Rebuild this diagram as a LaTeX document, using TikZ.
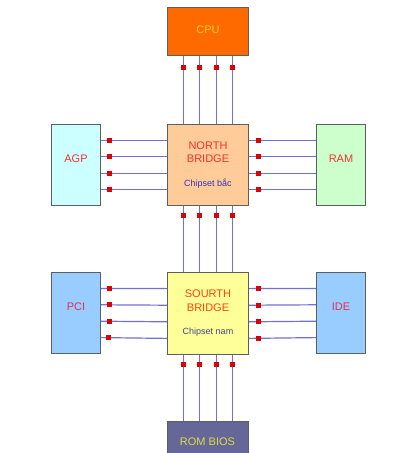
\documentclass[tikz,border=0pt]{standalone}
\usepackage{fontspec}
\setmainfont{Liberation Sans}
\usetikzlibrary{calc}
\definecolor{bordergray}{HTML}{5A6060}
\definecolor{buscol}{HTML}{7070D8}
\definecolor{sqred}{HTML}{DD0000}
\definecolor{cpufill}{HTML}{FF6A00}
\definecolor{cputext}{HTML}{FFCC22}
\definecolor{agpfill}{HTML}{CCFFFF}
\definecolor{nbfill}{HTML}{FFCC99}
\definecolor{ramfill}{HTML}{CCFFCC}
\definecolor{sbfill}{HTML}{FFFF99}
\definecolor{pcifill}{HTML}{99CCFF}
\definecolor{romfill}{HTML}{666699}
\definecolor{romtext}{HTML}{DDDD44}
\definecolor{redtext}{HTML}{EE3333}
\definecolor{sbtext}{HTML}{FF4411}
\definecolor{pcitext}{HTML}{DD3355}
\definecolor{chiptext}{HTML}{3333BB}
\definecolor{chiptextb}{HTML}{444488}
\tikzset{
  box/.style={draw=bordergray, line width=1pt, inner sep=0pt, anchor=north west},
  bus/.style={draw=buscol, line width=1.2pt},
  sq/.style={fill=sqred, minimum size=5pt, inner sep=0pt},
  lbl/.style={font=\fontsize{11}{13.5}\selectfont, align=center, inner sep=0pt},
  small/.style={font=\fontsize{9}{11}\selectfont, inner sep=0pt}
}
\begin{document}
\begin{tikzpicture}[x=1pt,y=-1pt]
\useasboundingbox (0,0) rectangle (413,453);
\clip (0,0) rectangle (413,453);
% boxes
\node[box, fill=cpufill, minimum width=81pt, minimum height=48pt] (cpu) at (167,7) {};
\node[box, fill=agpfill, minimum width=49pt, minimum height=81pt] (agp) at (51,124) {};
\node[box, fill=nbfill, minimum width=81pt, minimum height=81pt] (nb) at (167,124) {};
\node[box, fill=ramfill, minimum width=49pt, minimum height=81pt] (ram) at (316,124) {};
\node[box, fill=pcifill, minimum width=49pt, minimum height=81pt] (pci) at (51,272) {};
\node[box, fill=sbfill, minimum width=81pt, minimum height=82pt] (sb) at (167,272) {};
\node[box, fill=pcifill, minimum width=49pt, minimum height=81pt] (ide) at (316,272) {};
\node[box, fill=romfill, minimum width=81pt, minimum height=50pt] (rom) at (167,421) {};
% labels
\node[lbl, text=cputext] (cpul) at ($(cpu.center)+(0,-2)$) {CPU};
\node[lbl, text=redtext] (agpl) at ($(agp.center)+(0,-6)$) {AGP};
\node[lbl, text=redtext] (ramL) at ($(ram.center)+(0,-6)$) {RAM};
\node[lbl, text=redtext] (nbl) at ($(nb.center)+(0,-13)$) {NORTH\\BRIDGE};
\node[small, text=chiptext] (nbc) at ($(nb.center)+(0,18.5)$) {Chipset bắc};
\node[lbl, text=pcitext] (pcil) at ($(pci.center)+(0,-6)$) {PCI};
\node[lbl, text=pcitext] (idel) at ($(ide.center)+(0,-6)$) {IDE};
\node[lbl, text=sbtext] (sbl) at ($(sb.center)+(0,-13)$) {SOURTH\\BRIDGE};
\node[small, text=chiptextb] (sbc) at ($(sb.center)+(0,19)$) {Chipset nam};
\node[lbl, text=romtext] (roml) at (207.5,442) {ROM BIOS};
% buses
\foreach \f in {0.2,0.4,0.6,0.8}{
  % CPU - NB
  \coordinate (a) at ($(cpu.south west)!\f!(cpu.south east)$);
  \coordinate (b) at ($(nb.north west)!\f!(nb.north east)$);
  \draw[bus] (a) -- (b);
  \node[sq] at ($(a)!11pt!(b)$) {};
  % NB - SB
  \coordinate (a) at ($(nb.south west)!\f!(nb.south east)$);
  \coordinate (b) at ($(sb.north west)!\f!(sb.north east)$);
  \draw[bus] (a) -- (b);
  \node[sq] at ($(a)!9pt!(b)$) {};
  % SB - ROM
  \coordinate (a) at ($(sb.south west)!\f!(sb.south east)$);
  \coordinate (b) at ($(rom.north west)!\f!(rom.north east)$);
  \draw[bus] (a) -- (b);
  \node[sq] at ($(a)!9pt!(b)$) {};
  % AGP - NB
  \coordinate (a) at ($(agp.north east)!\f!(agp.south east)$);
  \coordinate (b) at ($(nb.north west)!\f!(nb.south west)$);
  \draw[bus] (a) -- (b);
  \node[sq] at ($(a)!8pt!(b)$) {};
  % NB - RAM
  \coordinate (a) at ($(nb.north east)!\f!(nb.south east)$);
  \coordinate (b) at ($(ram.north west)!\f!(ram.south west)$);
  \draw[bus] (a) -- (b);
  \node[sq] at ($(a)!9pt!(b)$) {};
  % PCI - SB
  \coordinate (a) at ($(pci.north east)!\f!(pci.south east)$);
  \coordinate (b) at ($(sb.north west)!\f!(sb.south west)$);
  \draw[bus] (a) -- (b);
  \node[sq] at ($(a)!8pt!(b)$) {};
  % SB - IDE
  \coordinate (a) at ($(sb.north east)!\f!(sb.south east)$);
  \coordinate (b) at ($(ide.north west)!\f!(ide.south west)$);
  \draw[bus] (a) -- (b);
  \node[sq] at ($(a)!9pt!(b)$) {};
}
\end{tikzpicture}
\end{document}
